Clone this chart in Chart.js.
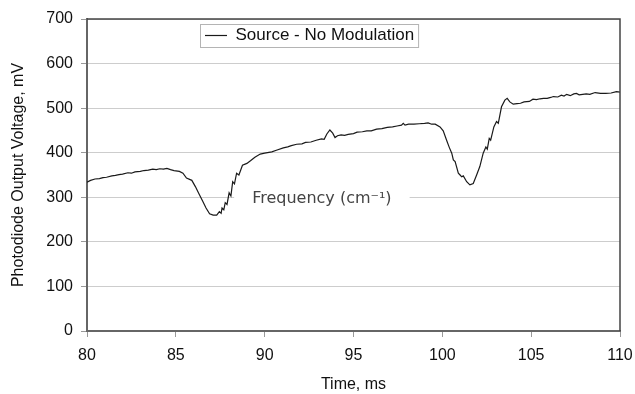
<!DOCTYPE html>
<html lang="en">
<head>
    <meta charset="UTF-8">
    <title>Source - No Modulation</title>
    <script src="https://cdn.jsdelivr.net/npm/chart.js"></script>
    <style>
        body { margin: 0; background: #fff; }
    </style>
</head>
<body>
    <canvas id="chart" width="635" height="394"></canvas>

    <script>
        // Trace
        const timeMs = [
            80.0, 80.2, 80.45, 80.7, 80.9, 81.1, 81.4, 81.6, 81.8, 82.0,
            82.3, 82.5, 82.7, 83.0, 83.2, 83.45, 83.7, 83.9, 84.1, 84.3,
            84.5, 84.7, 84.9, 85.2, 85.4, 85.6, 85.9, 86.1, 86.3, 86.5,
            86.7, 86.9, 87.1, 87.3, 87.45, 87.55, 87.6, 87.7, 87.78, 87.88,
            88.0, 88.1, 88.2, 88.3, 88.42, 88.55, 88.75, 89.0, 89.2, 89.45,
            89.75, 90.0, 90.4, 90.7, 91.05, 91.3, 91.5, 91.8, 92.1, 92.3,
            92.6, 92.9, 93.2, 93.35, 93.5, 93.67, 93.83, 93.96, 94.1, 94.3,
            94.5, 94.7, 95.0, 95.2, 95.5, 95.75, 96.0, 96.3, 96.6, 96.9,
            97.2, 97.45, 97.7, 97.8, 97.9, 98.1, 98.4, 98.7, 99.0, 99.2,
            99.4, 99.6, 99.87, 100.05, 100.24, 100.39, 100.53, 100.62, 100.72, 100.9,
            101.0, 101.09, 101.18, 101.37, 101.55, 101.74, 101.93, 102.11, 102.3, 102.45,
            102.53, 102.64, 102.72, 102.9, 103.05, 103.15, 103.33, 103.52, 103.65, 103.8,
            103.99, 104.2, 104.4, 104.6, 104.9, 105.1, 105.3, 105.5, 105.7, 105.9,
            106.1, 106.25, 106.5, 106.7, 106.85, 107.0, 107.2, 107.4, 107.55, 107.7,
            107.9, 108.1, 108.3, 108.6, 108.9, 109.2, 109.5, 109.8, 110.0
        ];
        const voltageMv = [
            334, 338, 341, 342, 344, 345, 348, 349, 351, 352,
            355, 354, 357, 358, 360, 361, 363, 362, 364, 363,
            365, 362, 360, 358, 354, 343, 338, 324, 308, 292,
            276, 263, 260, 260, 268, 264, 276, 272, 288, 284,
            310, 303, 335, 330, 354, 350, 372, 376, 382, 390,
            397, 399, 402, 406, 411, 413, 416, 419, 420, 423,
            424, 428, 431, 430, 442, 451, 444, 434, 438, 440,
            439, 441, 443, 446, 447, 449, 449, 453, 454, 457,
            458, 460, 462, 466, 462, 464, 464, 465, 466, 467,
            464, 464, 458, 449, 428, 412, 399, 384, 380, 354,
            350, 346, 348, 335, 328, 331, 350, 369, 399, 413,
            408, 432, 428, 458, 470, 466, 503, 518, 522, 514,
            509, 510, 511, 514, 515, 520, 519, 521, 522, 522,
            524, 526, 525, 529, 527, 531, 528, 532, 533, 530,
            531, 532, 531, 535, 533, 533, 534, 537, 536
        ];
        const xTicks = [80, 85, 90, 95, 100, 105, 110];
        const yTicks = [0, 100, 200, 300, 400, 500, 600, 700];
        const seriesName = 'Source - No Modulation';
        const noteText = 'Frequency (cm\u207B\u00B9)';
        const notePos = { x: 93.22, y: 300 };

        const FONT = '"Liberation Sans", Arial, sans-serif';
        Chart.defaults.font.family = FONT;
        Chart.defaults.font.size = 16;
        Chart.defaults.color = '#111';

        // Text label sitting on the 300 gridline, white box behind it
        const notePlugin = {
            id: 'note',
            beforeDatasetsDraw(chart) {
                const ctx = chart.ctx;
                const cx = chart.scales.x.getPixelForValue(notePos.x);
                const cy = chart.scales.y.getPixelForValue(notePos.y);
                ctx.save();
                ctx.font = '16px "DejaVu Sans", Verdana, sans-serif';
                const tw = ctx.measureText(noteText).width;
                ctx.fillStyle = '#fff';
                ctx.fillRect(cx - tw / 2 - 18, cy - 10, tw + 36, 20);
                ctx.fillStyle = '#444';
                ctx.textAlign = 'center';
                ctx.textBaseline = 'middle';
                ctx.fillText(noteText, cx, cy + 2);
                ctx.restore();
            }
        };

        // Legend moved inside the plot, plus frame and top/right border
        const framePlugin = {
            id: 'frame',
            beforeDraw(chart) {
                const lg = chart.legend;
                const w = lg.width, h = lg.height;
                lg.left = 205; lg.right = 205 + w;
                lg.top = 27; lg.bottom = 27 + h;
            },
            afterDraw(chart) {
                const ctx = chart.ctx;
                const a = chart.chartArea;
                const lg = chart.legend;
                ctx.save();
                ctx.font = '17px ' + FONT;
                const tw = ctx.measureText(seriesName).width;
                ctx.strokeStyle = '#b4b4b4';
                ctx.lineWidth = 1;
                ctx.strokeRect(lg.left - 4.5, 24.5, 22 + 8.5 + tw + 9, 23);

                ctx.strokeStyle = '#444';
                ctx.lineWidth = 1.5;
                ctx.beginPath();
                ctx.moveTo(a.left, a.top);
                ctx.lineTo(a.right, a.top);
                ctx.lineTo(a.right, a.bottom);
                ctx.stroke();
                ctx.restore();
            }
        };

        new Chart(document.getElementById('chart'), {
            type: 'line',
            data: {
                datasets: [{
                    label: seriesName,
                    data: timeMs.map((t, i) => ({ x: t, y: voltageMv[i] })),
                    borderColor: '#1a1a1a',
                    backgroundColor: '#1a1a1a',
                    borderWidth: 1.2,
                    pointRadius: 0,
                    tension: 0,
                    fill: false
                }]
            },
            options: {
                responsive: false,
                animation: false,
                layout: { padding: { top: 19, right: 15, left: 0, bottom: 0 } },
                plugins: {
                    tooltip: { enabled: false },
                    legend: {
                        position: 'chartArea',
                        align: 'start',
                        labels: {
                            usePointStyle: true,
                            pointStyle: 'line',
                            pointStyleWidth: 22,
                            padding: 0,
                            color: '#111',
                            font: { size: 17 }
                        }
                    }
                },
                scales: {
                    x: {
                        type: 'linear',
                        min: xTicks[0],
                        max: xTicks[xTicks.length - 1],
                        afterBuildTicks: s => { s.ticks = xTicks.map(v => ({ value: v })); },
                        afterFit: s => {
                            s.height = 63;
                            s.paddingLeft = 0;
                            s.paddingRight = 0;
                        },
                        ticks: { padding: 9, color: '#111', font: { size: 16 } },
                        grid: { drawOnChartArea: false, tickLength: 6, tickColor: '#999' },
                        border: { color: '#666', width: 2 },
                        title: {
                            display: true,
                            text: 'Time, ms',
                            color: '#111',
                            font: { size: 16 },
                            padding: { top: 4, bottom: 0 }
                        }
                    },
                    y: {
                        min: yTicks[0],
                        max: yTicks[yTicks.length - 1],
                        afterBuildTicks: s => { s.ticks = yTicks.map(v => ({ value: v })); },
                        afterFit: s => {
                            s.width = 87;
                            s.paddingTop = 0;
                            s.paddingBottom = 0;
                        },
                        ticks: { padding: 8, color: '#111', font: { size: 16 } },
                        grid: { color: '#cdcdcd', lineWidth: 1, tickLength: 6, tickColor: '#999' },
                        border: { color: '#666', width: 2 },
                        title: {
                            display: true,
                            text: 'Photodiode Output Voltage, mV',
                            color: '#111',
                            font: { size: 16 },
                            padding: { top: 9, bottom: 0 }
                        }
                    }
                }
            },
            plugins: [notePlugin, framePlugin]
        });
    </script>
</body>
</html>
